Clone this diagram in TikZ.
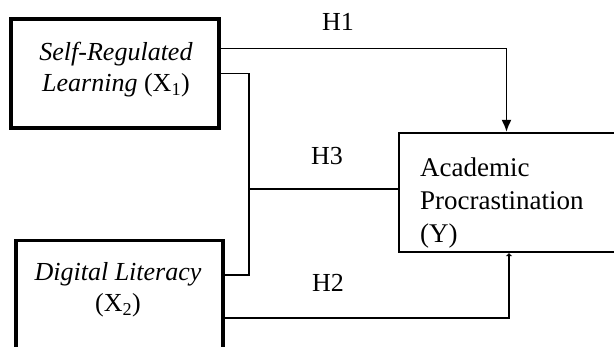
\documentclass[tikz,border=0pt]{standalone}
\usepackage{fontspec}
\setmainfont{Liberation Serif}
\usepackage{tikz}
\usetikzlibrary{arrows.meta, positioning}

\begin{document}
\begin{tikzpicture}[
    x=1pt, y=-1pt,
    every node/.style={font=\fontsize{26}{31}\selectfont},
    varbox/.style={rectangle, draw=black, line width=3.2pt, fill=white, inner sep=0pt},
    depbox/.style={rectangle, draw=black, line width=2.2pt, fill=white, inner sep=0pt},
    txt/.style={inner sep=0pt, align=center},
    link/.style={line width=1.8pt},
    arrow/.style={-{Latex[length=12pt, width=10pt]}, line width=1.8pt}
]
    \useasboundingbox (0,0) rectangle (614,347);

    % boxes
    \node (srl) [varbox, minimum width=208pt, minimum height=109pt] at (115,73.5) {};
    \node (dl) [varbox, minimum width=207pt, minimum height=139pt] at (119.5,310) {};
    \node (acad) [depbox, minimum width=231pt, minimum height=119pt] at (514.5,192.5) {};

    % box texts
    \node (srltext) [txt] at (116,70) {\textit{Self-Regulated}\\\textit{Learning} (X\textsubscript{1})};
    \node (dltext) [txt] at (118,290) {\textit{Digital Literacy}\\(X\textsubscript{2})};
    \node (acadtext) [txt, align=left, anchor=west, font=\fontsize{27}{33}\selectfont] at (420,203) {Academic\\Procrastination\\(Y)};

    % hypotheses
    \node (h1) at (338,22) {H1};
    \node (h3) at (327,156) {H3};
    \node (h2) at (328,283) {H2};

    % paths
    \coordinate (mid) at (249,189);
    \draw [arrow] ([yshift=25pt]srl.east) -| ([xshift=-8pt]acad.north);
    \draw [link] (srl.east) -| (mid) |- ([yshift=35pt]dl.east);
    \draw [link] (mid) -- (mid -| acad.west);
    \draw [arrow, -{Latex[length=3pt, width=7pt]}] ([yshift=-8pt]dl.east) -| ([xshift=-5.5pt]acad.south);
\end{tikzpicture}
\end{document}
